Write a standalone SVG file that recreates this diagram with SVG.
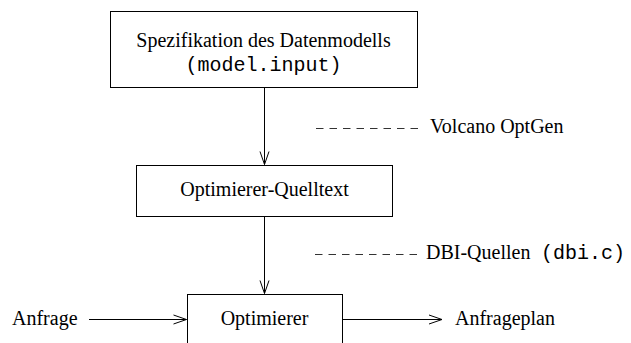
<svg xmlns="http://www.w3.org/2000/svg" width="631" height="343" viewBox="0 0 631 343">
  <style>
    .box { fill: #fff; stroke: #000; stroke-width: 1; }
    .t { font-family: "Liberation Serif", "Times New Roman", serif; font-size: 20px; fill: #000; }
    .m { font-family: "Liberation Mono", "Courier New", monospace; font-size: 20px; fill: #000; }
    .edge { fill: none; stroke: #000; stroke-width: 1; }
    .dash { fill: none; stroke: #333; stroke-width: 1; stroke-dasharray: 7.5 6; }
  </style>
  <defs>
    <marker id="open" markerUnits="userSpaceOnUse" markerWidth="16" markerHeight="12" refX="0" refY="0" viewBox="-14 -6 16 12" orient="auto" overflow="visible">
      <path d="M-13,-4.5 L0,0 L-13,4.5" fill="none" stroke="#000" stroke-width="1"/>
    </marker>
  </defs>
  <rect width="631" height="343" fill="#fff"/>

  <g id="spec">
    <rect class="box" x="110.5" y="11.5" width="307" height="76"/>
    <text class="t" x="263.5" y="47" text-anchor="middle">Spezifikation des Datenmodells</text>
    <text class="m" x="263.5" y="71" text-anchor="middle">(model.input)</text>
  </g>

  <g id="source">
    <rect class="box" x="136.5" y="165.5" width="256" height="51"/>
    <text class="t" x="264.5" y="196" text-anchor="middle">Optimierer-Quelltext</text>
  </g>

  <g id="optimizer">
    <rect class="box" x="187.5" y="294.5" width="155" height="70"/>
    <text class="t" x="264.5" y="325" text-anchor="middle">Optimierer</text>
  </g>

  <g id="input">
    <text class="t" x="12" y="325">Anfrage</text>
  </g>

  <g id="output">
    <text class="t" x="455" y="325">Anfrageplan</text>
  </g>

  <g id="tool-volcano">
    <line class="dash" x1="316" y1="128.5" x2="418" y2="128.5"/>
    <text class="t" x="430" y="133">Volcano OptGen</text>
  </g>

  <g id="tool-dbi">
    <line class="dash" x1="315" y1="254.5" x2="417" y2="254.5"/>
    <text class="t" x="426" y="259">DBI-Quellen</text>
    <text class="m" x="541" y="259">(dbi.c)</text>
  </g>

  <g id="connectors">
    <line class="edge" x1="264.5" y1="88" x2="264.5" y2="164.5" marker-end="url(#open)"/>
    <line class="edge" x1="264.5" y1="217" x2="264.5" y2="293.5" marker-end="url(#open)"/>
    <line class="edge" x1="89" y1="319.5" x2="186.5" y2="319.5" marker-end="url(#open)"/>
    <line class="edge" x1="343" y1="319.5" x2="442" y2="319.5" marker-end="url(#open)"/>
  </g>
</svg>
